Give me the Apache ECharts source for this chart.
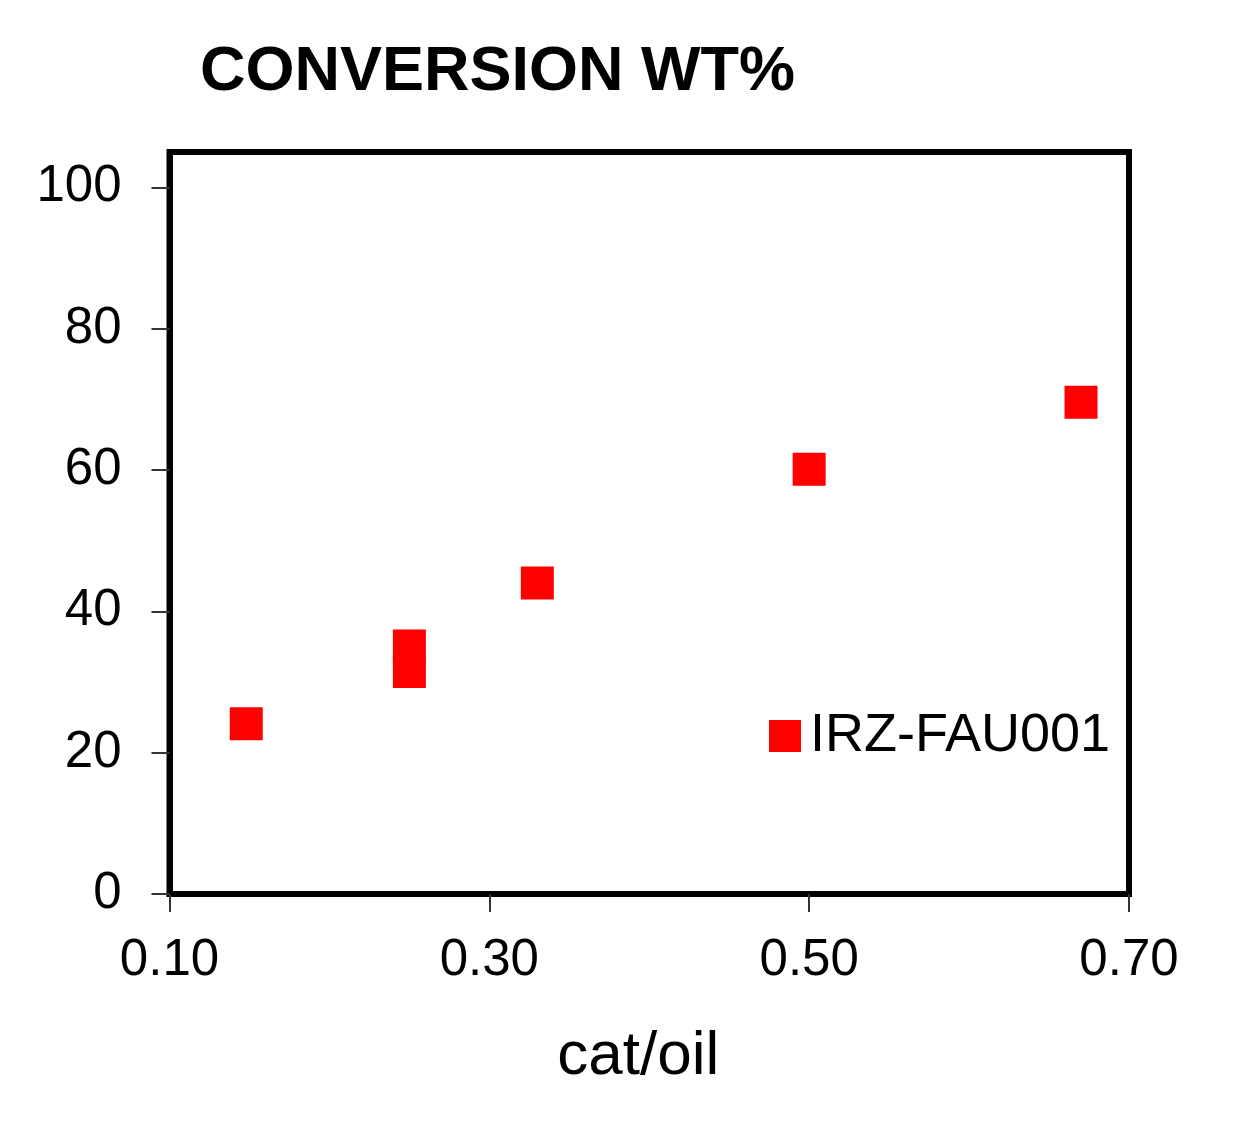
<!DOCTYPE html>
<html>
<head>
<meta charset="utf-8">
<script src="https://cdn.jsdelivr.net/npm/echarts@6/dist/echarts.min.js"></script>
<style>
  html, body { margin: 0; padding: 0; background: #fff; }
  #chart { width: 1238px; height: 1124px; }
</style>
</head>
<body>
<div id="chart"></div>
<script>
// data
var seriesName = 'IRZ-FAU001'
var catOil = [0.148, 0.25, 0.25, 0.33, 0.50, 0.67]
var conversion = [24.1, 35.1, 31.5, 44.0, 60.1, 69.6]
var yTicks = [0, 20, 40, 60, 80, 100]
var xTicks = [0.1, 0.3, 0.5, 0.7]

var font = '"Liberation Sans", Arial, sans-serif'

var points = []
for (var i = 0; i < catOil.length; i++) {
  points.push([catOil[i], conversion[i]])
}

var chart = echarts.init(document.getElementById('chart'))

var option = {
  backgroundColor: '#fff',
  animation: false,
  title: {
    text: 'CONVERSION WT%',
    left: 200,
    top: 41,
    padding: 0,
    textStyle: {
      fontFamily: font,
      fontWeight: 'bold',
      fontSize: 63,
      color: '#000'
    }
  },
  legend: {
    data: [seriesName],
    left: 769,
    top: 709,
    padding: 0,
    itemWidth: 32,
    itemHeight: 32,
    icon: 'rect',
    itemStyle: { color: '#ff0000', opacity: 1 },
    textStyle: {
      fontFamily: font,
      fontSize: 54,
      color: '#000',
      padding: [0, 0, 0, 4]
    }
  },
  grid: {
    left: 169.5,
    right: 109,
    top: 152,
    bottom: 230,
    show: true,
    borderColor: '#000',
    borderWidth: 6
  },
  xAxis: {
    type: 'value',
    min: 0.1,
    max: 0.7,
    interval: 0.2,
    name: 'cat/oil',
    nameLocation: 'middle',
    nameGap: 132,
    nameTextStyle: {
      fontFamily: font,
      fontSize: 62,
      color: '#000',
      padding: [0, 22, 0, 0]
    },
    axisLine: { show: true, lineStyle: { color: '#000', width: 6 } },
    axisTick: {
      show: true,
      inside: false,
      length: 18,
      customValues: xTicks,
      lineStyle: { color: '#333', width: 2 }
    },
    axisLabel: {
      margin: 41,
      customValues: xTicks,
      fontFamily: font,
      fontSize: 51,
      color: '#000',
      formatter: function (v) { return v.toFixed(2) }
    },
    splitLine: { show: false }
  },
  yAxis: {
    type: 'value',
    min: 0,
    max: 105,
    interval: 20,
    axisLine: { show: true, lineStyle: { color: '#000', width: 6 } },
    axisTick: {
      show: true,
      inside: false,
      length: 18,
      customValues: yTicks,
      lineStyle: { color: '#333', width: 2 }
    },
    axisLabel: {
      margin: 48,
      customValues: yTicks,
      fontFamily: font,
      fontSize: 51,
      color: '#000'
    },
    splitLine: { show: false }
  },
  series: [{
    name: seriesName,
    type: 'scatter',
    symbol: 'rect',
    symbolSize: 33,
    itemStyle: { color: '#ff0000', opacity: 1 },
    data: points
  }]
}

chart.setOption(option)
</script>
</body>
</html>
